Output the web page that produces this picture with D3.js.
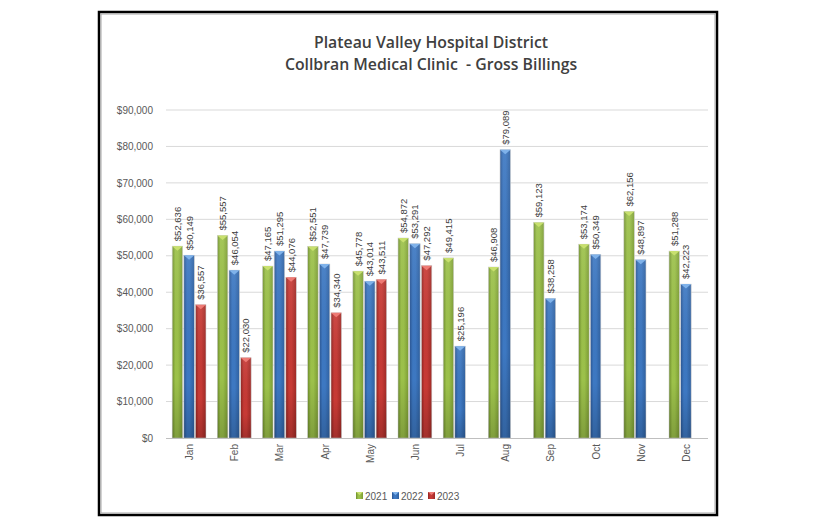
<!DOCTYPE html>
<html>
<head>
<meta charset="utf-8">
<script src="https://cdn.jsdelivr.net/npm/d3@7/dist/d3.min.js"></script>
<style>
  html, body { margin: 0; padding: 0; background: #ffffff; }
  svg { display: block; }
</style>
</head>
<body>
<script>
// ---- data ----
const months = ["Jan","Feb","Mar","Apr","May","Jun","Jul","Aug","Sep","Oct","Nov","Dec"];
const seriesNames = ["2021","2022","2023"];
const values2021 = [52636, 55557, 47165, 52551, 45778, 54872, 49415, 46908, 59123, 53174, 62156, 51288];
const values2022 = [50149, 46054, 51295, 47739, 43014, 53291, 25196, 79089, 38258, 50349, 48897, 42223];
const values2023 = [36557, 22030, 44076, 34340, 43511, 47292, null, null, null, null, null, null];
const yTicks = [0, 10000, 20000, 30000, 40000, 50000, 60000, 70000, 80000, 90000];
const titleLines = ["Plateau Valley Hospital District", "Collbran Medical Clinic  - Gross Billings"];

const allSeries = [values2021, values2022, values2023];
const colors = [
  {dark: "#6e8d2c", mid: "#9cc14a", light: "#c8e06e", edge: "#7c9c34"},
  {dark: "#2a5592", mid: "#3d78c2", light: "#7fb2ea", edge: "#2f609f"},
  {dark: "#8e2320", mid: "#c73a35", light: "#ee7a74", edge: "#9e2a26"}
];

const W = 816, H = 528;
const svg = d3.select("body").append("svg").attr("width", W).attr("height", H);
const defs = svg.append("defs");

colors.forEach((c, i) => {
  const g = defs.append("linearGradient").attr("id", "grad" + i)
    .attr("x1", "0%").attr("x2", "100%").attr("y1", "0%").attr("y2", "0%");
  g.append("stop").attr("offset", "0%").attr("stop-color", c.dark);
  g.append("stop").attr("offset", "30%").attr("stop-color", c.mid);
  g.append("stop").attr("offset", "55%").attr("stop-color", c.mid);
  g.append("stop").attr("offset", "100%").attr("stop-color", c.edge);
});
const vg = defs.append("linearGradient").attr("id", "vshade")
  .attr("x1", "0%").attr("x2", "0%").attr("y1", "0%").attr("y2", "100%");
vg.append("stop").attr("offset", "0%").attr("stop-color", "#fff").attr("stop-opacity", 0.08);
vg.append("stop").attr("offset", "70%").attr("stop-color", "#000").attr("stop-opacity", 0.0);
vg.append("stop").attr("offset", "100%").attr("stop-color", "#000").attr("stop-opacity", 0.18);

// ---- frame ----
svg.append("rect").attr("x", 99).attr("y", 12).attr("width", 618).attr("height", 503)
  .attr("fill", "#fff").attr("stroke", "#000").attr("stroke-width", 2.5);
svg.append("rect").attr("x", 101).attr("y", 14).attr("width", 614).attr("height", 499)
  .attr("fill", "none").attr("stroke", "#a6a6a6").attr("stroke-width", 1);

// ---- scales ----
const plotL = 166, plotR = 708, plotT = 110, plotB = 438;
const x0 = d3.scaleBand().domain(months).range([plotL, plotR]).paddingInner(0.2).paddingOuter(0.1);
const x1 = d3.scaleBand().domain([0,1,2]).range([0, x0.bandwidth()]).padding(0.1);
const y = d3.scaleLinear().domain([0, 90000]).range([plotB, plotT]);

// gridlines
svg.append("g").selectAll("line").data(yTicks.filter(d => d > 0)).join("line")
  .attr("x1", plotL).attr("x2", plotR)
  .attr("y1", d => y(d)).attr("y2", d => y(d))
  .attr("stroke", "#d9d9d9").attr("stroke-width", 1);

// y axis labels
const yAxis = d3.axisLeft(y).tickValues(yTicks).tickFormat(d3.format("$,")).tickSize(0).tickPadding(13);
const yg = svg.append("g").attr("transform", `translate(${plotL},0)`).call(yAxis);
yg.select(".domain").remove();
yg.selectAll("text").attr("font-family", "Liberation Sans, Arial, sans-serif")
  .attr("font-size", 10).attr("fill", "#595959");

// bars
const fmt = d3.format("$,");
const barsData = [];
months.forEach((m, mi) => {
  allSeries.forEach((s, si) => {
    if (s[mi] != null) barsData.push({m, si, v: s[mi]});
  });
});

const bg = svg.append("g");
const bar = bg.selectAll("g.bar").data(barsData).join("g").attr("class", "bar");
bar.append("rect")
  .attr("x", d => x0(d.m) + x1(d.si) + 0.5)
  .attr("y", d => y(d.v))
  .attr("width", x1.bandwidth())
  .attr("height", d => y(0) - y(d.v))
  .attr("fill", d => `url(#grad${d.si})`)
  .attr("stroke", "#cfcfcf").attr("stroke-width", 0.6);
bar.append("rect")
  .attr("x", d => x0(d.m) + x1(d.si) + 0.5)
  .attr("y", d => y(d.v))
  .attr("width", x1.bandwidth())
  .attr("height", d => y(0) - y(d.v))
  .attr("fill", "url(#vshade)");
// top cap
bar.append("polygon")
  .attr("points", d => {
    const xl = x0(d.m) + x1(d.si) + 0.5, w = x1.bandwidth(), t = y(d.v);
    return `${xl},${t} ${xl + w},${t} ${xl + w/2},${t + 4.5}`;
  })
  .attr("fill", d => colors[d.si].light);

// value labels
bar.append("text")
  .attr("transform", d => `translate(${x0(d.m) + x1(d.si) + 0.5 + x1.bandwidth()/2},${y(d.v) - 5}) rotate(-90)`)
  .attr("text-anchor", "start")
  .attr("dominant-baseline", "central")
  .attr("font-family", "Liberation Sans, Arial, sans-serif")
  .attr("font-size", 9.5).attr("fill", "#404040")
  .text(d => fmt(d.v));

// x axis baseline
svg.append("line").attr("x1", plotL).attr("x2", plotR).attr("y1", plotB + 0.5).attr("y2", plotB + 0.5)
  .attr("stroke", "#bfbfbf").attr("stroke-width", 1);

// month labels
svg.append("g").selectAll("text").data(months).join("text")
  .attr("transform", d => `translate(${x0(d) + x0.bandwidth()/2 + 1},${plotB + 6}) rotate(-90)`)
  .attr("text-anchor", "end")
  .attr("dominant-baseline", "central")
  .attr("font-family", "Liberation Sans, Arial, sans-serif")
  .attr("font-size", 10).attr("fill", "#595959")
  .text(d => d);

// title
svg.append("g").selectAll("text").data(titleLines).join("text")
  .attr("x", 431).attr("y", (d, i) => 48 + i * 22)
  .attr("text-anchor", "middle")
  .style("white-space", "pre")
  .attr("font-family", "Open Sans, sans-serif")
  .attr("font-weight", 600)
  .attr("font-size", 15.8).attr("fill", "#404040")
  .text(d => d);

// legend
const legendX = [356, 392, 428];
const lg = svg.append("g").selectAll("g").data(seriesNames).join("g")
  .attr("transform", (d, i) => `translate(${legendX[i]},492)`);
lg.append("rect").attr("width", 7).attr("height", 7).attr("fill", (d, i) => `url(#grad${i})`);
lg.append("polygon").attr("points", "0,0 7,0 3.5,3").attr("fill", (d, i) => colors[i].light);
lg.append("text").attr("x", 9).attr("y", 4).attr("dominant-baseline", "central")
  .attr("font-family", "Liberation Sans, Arial, sans-serif")
  .attr("font-size", 10).attr("fill", "#595959")
  .text(d => d);
</script>
</body>
</html>
